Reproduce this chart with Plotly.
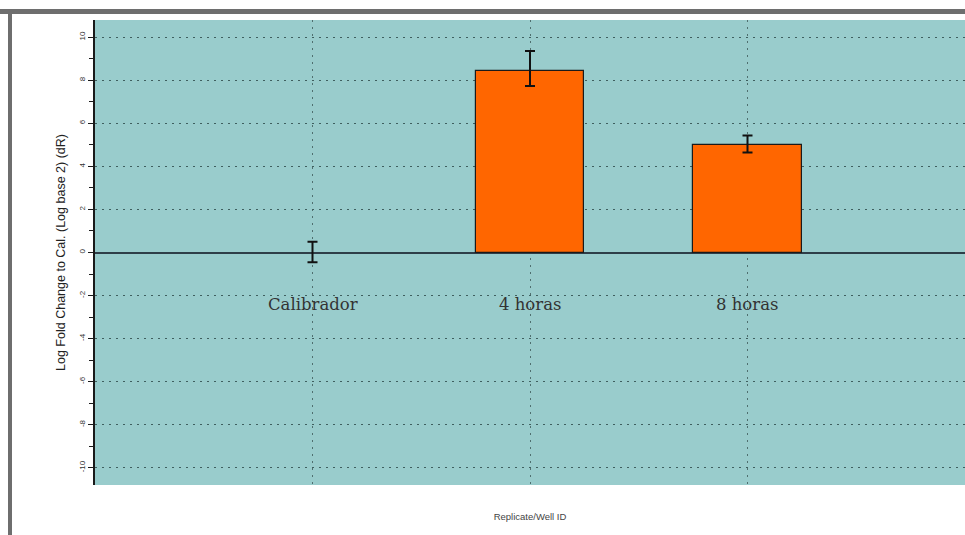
import plotly.graph_objects as go

# Relative expression (log2 fold change vs. calibrator) with asymmetric error
categories = ["Calibrador", "4 horas", "8 horas"]
positions = [1, 2, 3]
fold_change = [0.0, 8.43, 5.01]
err_plus = [0.50, 0.93, 0.43]
err_minus = [0.45, 0.70, 0.37]

y_ticks = [-10, -8, -6, -4, -2, 0, 2, 4, 6, 8, 10]

fig = go.Figure()

fig.add_trace(go.Bar(
    x=positions,
    y=fold_change,
    width=0.5,
    marker=dict(color="#FF6600",
                line=dict(color="#1a1a1a", width=[0 if v == 0 else 1.2 for v in fold_change])),
    error_y=dict(
        type="data", symmetric=False,
        array=err_plus, arrayminus=err_minus,
        color="#111111", thickness=2, width=5,
    ),
    showlegend=False,
))

# Category names drawn inside the plot, below the zero line
for xp, name in zip(positions, categories):
    fig.add_annotation(
        x=xp, y=-2.42, xref="x", yref="y", text=name, showarrow=False,
        font=dict(family="DejaVu Serif, Georgia, serif", size=16.5, color="#333333"),
    )

# Outer frame: grey bars along the top and left edge
W, H = 965, 535
L, R, T, B = 95, 0, 20, 50
pw, ph = W - L - R, H - T - B

def px_x(p):
    return (p - L) / pw

def px_y(q):
    return (H - B - q) / ph

fig.add_shape(type="rect", xref="paper", yref="paper",
              x0=px_x(0), x1=px_x(W), y0=px_y(14), y1=px_y(9),
              fillcolor="#6e6e6e", line=dict(width=0), layer="above")
fig.add_shape(type="rect", xref="paper", yref="paper",
              x0=px_x(8), x1=px_x(12), y0=px_y(H), y1=px_y(9),
              fillcolor="#6e6e6e", line=dict(width=0), layer="above")

fig.update_layout(
    width=W, height=H,
    margin=dict(l=L, r=R, t=T, b=B),
    paper_bgcolor="white",
    plot_bgcolor="#99CCCC",
    font=dict(family="Arial, Liberation Sans, sans-serif", color="#222222"),
    bargap=0,
)

fig.update_xaxes(
    range=[0, 4],
    tickvals=positions,
    ticktext=["", "", ""],
    showgrid=True, gridcolor="#4f6f6f", griddash="2px,5px", gridwidth=1,
    zeroline=False, showline=False,
    ticks="",
    title=dict(text="Replicate/Well ID", font=dict(size=9.5, color="#444444"), standoff=28),
)

fig.update_yaxes(
    range=[-10.8, 10.8],
    tickvals=y_ticks,
    ticktext=[str(v) for v in y_ticks],
    tickangle=-90,
    tickfont=dict(size=8, color="#333333"),
    showgrid=True, gridcolor="#3f5f5f", griddash="2px,5px", gridwidth=1,
    zeroline=True, zerolinecolor="#2e3e48", zerolinewidth=1.5,
    showline=True, linecolor="#1a1a1a", linewidth=1.5,
    ticks="outside", ticklen=5, tickcolor="#1a1a1a",
    minor=dict(dtick=1, ticks="outside", ticklen=4, tickcolor="#1a1a1a", showgrid=False),
    title=dict(text="Log Fold Change to Cal. (Log base 2) (dR)",
               font=dict(size=12.5, color="#222222"), standoff=10),
)

fig.write_html("out.html")
